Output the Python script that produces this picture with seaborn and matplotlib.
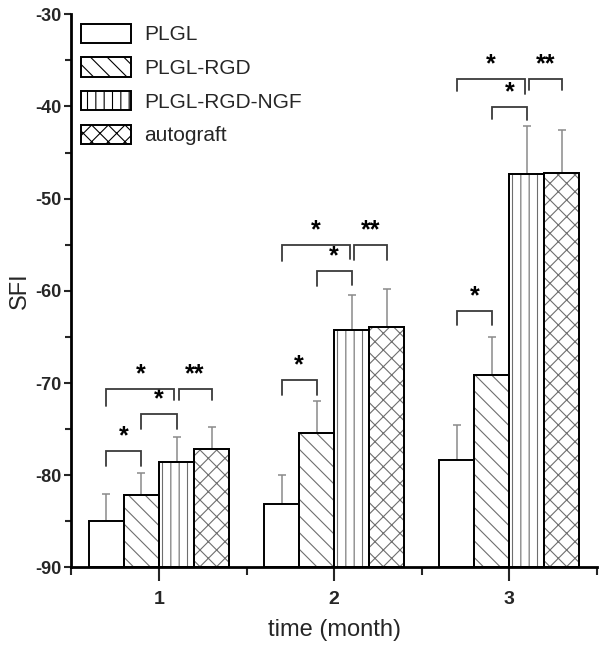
import numpy as np
import pandas as pd
import matplotlib
matplotlib.use("Agg")
import matplotlib.pyplot as plt
from matplotlib.patches import Patch
from matplotlib.ticker import MultipleLocator
import seaborn as sns

# ---------------- data ----------------
months = ["1", "2", "3"]
groups = ["PLGL", "PLGL-RGD", "PLGL-RGD-NGF", "autograft"]
plgl = [-85.0, -83.1, -78.3]
plgl_err = [2.95, 3.1, 3.7]
rgd = [-82.1, -75.4, -69.1]
rgd_err = [2.3, 3.5, 4.15]
ngf = [-78.6, -64.2, -47.3]
ngf_err = [2.75, 3.7, 5.2]
auto = [-77.1, -63.9, -47.2]
auto_err = [2.3, 4.1, 4.65]
y_ticks = [-90, -80, -70, -60, -50, -40, -30]

# significance brackets: (month index, bar i, bar j, label)
sig_pairs = [
    (0, 0, 1, "*"), (0, 1, 2, "*"), (0, 0, 2, "*"), (0, 2, 3, "**"),
    (1, 0, 1, "*"), (1, 1, 2, "*"), (1, 0, 2, "*"), (1, 2, 3, "**"),
    (2, 0, 1, "*"), (2, 1, 2, "*"), (2, 0, 2, "*"), (2, 2, 3, "**"),
]
# bracket heights (annotation layout): y of bar, left-leg end, right-leg end
sig_y = [
    (-77.4, -79.0, -79.0), (-73.4, -75.0, -75.0), (-70.65, -72.5, -71.85), (-70.65, -71.85, -71.85),
    (-69.7, -71.3, -71.3), (-57.8, -59.5, -59.4), (-55.0, -56.8, -56.5), (-55.0, -56.6, -56.6),
    (-62.2, -63.7, -63.7), (-40.1, -41.4, -41.5), (-37.0, -38.35, -38.7), (-37.0, -38.2, -38.2),
]

BASE = -90
series = [plgl, rgd, ngf, auto]
errs = [plgl_err, rgd_err, ngf_err, auto_err]
rows = []
for g, vals, ers in zip(groups, series, errs):
    for m, v, e in zip(months, vals, ers):
        rows.append({"month": m, "group": g, "SFI": v, "err": e})
df = pd.DataFrame(rows)
df["rise"] = df["SFI"] - BASE

# ---------------- style ----------------
sns.set_style("ticks")
FONT = ["Liberation Sans", "DejaVu Sans"]
plt.rcParams["font.family"] = FONT
plt.rcParams["hatch.linewidth"] = 0.8

fig = plt.figure(figsize=(6.0, 6.49), dpi=100)
ax = fig.add_axes([0.119, 0.1256, 0.876, 0.8524])

sns.barplot(data=df, x="month", y="rise", hue="group", order=months,
            hue_order=groups, palette=["white"] * 4, width=0.8,
            bottom=BASE, errorbar=None, ax=ax, legend=False,
            edgecolor="black", linewidth=1.4)

hatches = ["", "\\\\", "||", "xx"]
hatch_gray = "#6e6e6e"
has_hc = hasattr(matplotlib.patches.Patch, "set_hatchcolor")
centers = []
for cont, h in zip(ax.containers, hatches):
    cs = []
    for p in cont:
        p.set_facecolor("white")
        p.set_hatch(h)
        if h:
            if has_hc:
                p.set_edgecolor("black")
                p.set_hatchcolor(hatch_gray)
            else:
                p.set_edgecolor(hatch_gray)
                ax.add_patch(plt.Rectangle((p.get_x(), p.get_y()), p.get_width(),
                                           p.get_height(), fill=False,
                                           edgecolor="black", lw=1.4, zorder=p.get_zorder() + 0.1))
        cs.append(p.get_x() + p.get_width() / 2)
    centers.append(cs)

# error bars (upper only)
for k, (vals, ers) in enumerate(zip(series, errs)):
    ax.errorbar(centers[k], vals, yerr=[np.zeros(len(ers)), ers], fmt="none",
                ecolor="#8a8a8a", elinewidth=1.1, capsize=3, capthick=1.1, zorder=0.5)

# significance brackets
for (m, i, j, lab), (yb, yl, yr) in zip(sig_pairs, sig_y):
    xi, xj = centers[i][m], centers[j][m]
    if lab == "**":
        xi += 0.012
    elif j == 2 and i == 0:
        xj -= 0.012
    ax.plot([xi, xi, xj, xj], [yl, yb, yb, yr], color="#3a3a3a", lw=1.3,
            solid_joinstyle="miter", zorder=3)
    ax.text((xi + xj) / 2, yb + 0.3, lab, ha="center", va="bottom",
            fontsize=18, fontweight="bold", color="black")

# axes
ax.set_ylim(-90, -30)
ax.set_xlim(-0.5, 2.5)
ax.set_yticks(y_ticks)
ax.set_yticklabels([str(t) for t in y_ticks])
ax.yaxis.set_minor_locator(MultipleLocator(5))
ax.set_xticks(range(len(months)))
ax.set_xticklabels(months)
ax.set_xticks([-0.5, 0.5, 1.5, 2.5], minor=True)
for s in ["top", "right"]:
    ax.spines[s].set_visible(False)
for s in ["left", "bottom"]:
    ax.spines[s].set_linewidth(2.0)
    ax.spines[s].set_color("black")
ax.tick_params(axis="y", which="major", length=5, width=1.5, labelsize=13, pad=2)
ax.tick_params(axis="y", which="minor", length=4, width=1.5)
ax.tick_params(axis="x", which="major", length=10, width=1.5, labelsize=14, pad=7)
ax.tick_params(axis="x", which="minor", length=6, width=1.5)
for t in ax.get_xticklabels() + ax.get_yticklabels():
    t.set_fontweight("bold")
ax.set_xlabel("time (month)", fontsize=17, labelpad=8)
ax.set_ylabel("SFI", fontsize=17, labelpad=3)

# legend
handles = []
for g, h in zip(groups, hatches):
    kw = dict(facecolor="white", edgecolor="black", hatch=h, lw=1.4)
    if has_hc and h:
        kw["hatchcolor"] = hatch_gray
    handles.append(Patch(**kw))
ax.legend(handles, groups, loc="upper left", bbox_to_anchor=(0.0, 1.0),
          frameon=False, fontsize=15, handlelength=2.4, handleheight=1.05,
          labelspacing=0.62, handletextpad=0.65, borderaxespad=0.0,
          borderpad=0.45)

fig.savefig("out.png", dpi=100)
